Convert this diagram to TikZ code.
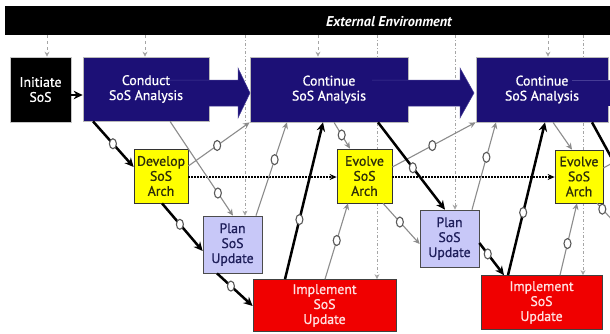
\documentclass[tikz,border=0pt]{standalone}
\usepackage{fontspec}
\setmainfont{PT Sans}
\newfontfamily\boxface{PT Sans}[FakeBold=0.9]
\usetikzlibrary{arrows.meta,shapes.geometric,backgrounds}

\definecolor{navy}{RGB}{28,16,118}
\definecolor{navyedge}{RGB}{70,60,150}
\definecolor{sosyellow}{RGB}{255,255,0}
\definecolor{archtext}{RGB}{45,45,10}
\definecolor{lavender}{RGB}{200,200,248}
\definecolor{plantext}{RGB}{30,30,90}
\definecolor{sosred}{RGB}{240,0,0}
\definecolor{impltext}{RGB}{255,225,225}
\definecolor{linkgray}{RGB}{140,140,140}
\definecolor{envgray}{RGB}{165,165,165}

\tikzset{
  boxfont/.style={font=\boxface\fontsize{13.8}{15}\selectfont},
  basebox/.style={inner sep=0pt, align=center, line width=0.7pt, boxfont},
  navybox/.style={basebox, fill=navy, draw=gray!55},
  blackbox/.style={basebox, fill=black, draw=gray!45, text=white},
  archbox/.style={basebox, fill=sosyellow, draw=black!80, text=archtext},
  planbox/.style={basebox, fill=lavender, draw=black!70, text=plantext},
  implbox/.style={basebox, fill=sosred, draw=black!75, text=impltext},
  navytext/.style={inner sep=0pt, align=center, text=white, boxfont},
  bk/.style={line width=2.5pt, black, -{Stealth[length=9pt,width=8.5pt]}},
  bkplain/.style={line width=2.5pt, black},
  gr/.style={line width=1.1pt, linkgray, -{Stealth[length=6.5pt,width=6pt]}},
  grplain/.style={line width=1.1pt, linkgray},
  dt/.style={line width=1.8pt, black, dash pattern=on 1.6pt off 1.4pt, -{Stealth[length=7pt,width=6pt]}},
  envdash/.style={line width=0.8pt, envgray, dashed, -{Stealth[length=5pt,width=5pt]}},
  envdashdot/.style={line width=0.8pt, envgray, dash pattern=on 3pt off 2pt on 1pt off 2pt, -{Stealth[length=5pt,width=5pt]}},
  mk/.style={ellipse, draw=gray!70!black, fill=white, line width=1.1pt, minimum width=7pt, minimum height=10pt, inner sep=0pt},
}

\begin{document}
\begin{tikzpicture}[x=1pt,y=-1pt]
\useasboundingbox (0,0) rectangle (610,333);
\begin{pgfonlayer}{background}
  \fill[white] (0,0) rectangle (610,333);
\end{pgfonlayer}

% environment bar
\node[fill=black, inner sep=0pt, minimum width=612pt, minimum height=29pt] (env) at (311,20.5) {};
\node[text=white, font=\fontsize{14.2}{16}\selectfont\bfseries\itshape] (envtext) at (389,22) {External Environment};

% process boxes
\node[blackbox, minimum width=61pt, minimum height=65pt] (init) at (40.5,89.5) {Initiate\\SoS};
\node[navybox, minimum width=126pt, minimum height=64pt] (conduct) at (146,89) {};
\node[navybox, minimum width=158pt, minimum height=65pt] (cont1) at (329,89.5) {};
\node[navybox, minimum width=132pt, minimum height=65pt] (cont2) at (542,89.5) {};

\node[archbox, minimum width=54pt, minimum height=54pt] (develop) at (161,176) {Develop\\SoS\\Arch};
\node[archbox, minimum width=55pt, minimum height=54pt] (evolve1) at (364.5,176) {Evolve\\SoS\\Arch};
\node[archbox, minimum width=48pt, minimum height=53pt] (evolve2) at (579,176.5) {Evolve\\SoS\\Arch};

\node[planbox, minimum width=59pt, minimum height=57pt] (plan1) at (232.5,244.5) {Plan\\SoS\\Update};
\node[planbox, minimum width=59pt, minimum height=57pt] (plan2) at (449.5,238.5) {Plan\\SoS\\Update};

\node[implbox, minimum width=143pt, minimum height=52pt] (impl1) at (324.5,305.5) {Implement\\SoS\\Update};
\node[implbox, minimum width=121pt, minimum height=54pt] (impl2) at (541.5,302.5) {Implement\\SoS\\Update};

% broad analysis arrows running through the analysis boxes
\fill[navy] (147,80) -- (238,80) -- (238,68) -- (250,93) -- (238,118) -- (238,106) -- (147,106) -- cycle;
\draw[navyedge, line width=0.5pt] (147,80) -- (238,80) -- (238,68) -- (250,93) -- (238,118) -- (238,106) -- (209,106);
\fill[navy] (372,80) -- (460,80) -- (460,68) -- (474,93) -- (460,118) -- (460,106) -- (372,106) -- cycle;
\draw[navyedge, line width=0.5pt] (372,80) -- (460,80) -- (460,68) -- (474,93) -- (460,118) -- (460,106) -- (408,106);
\fill[navy] (600,80) rectangle (612,106);
\draw[navyedge, line width=0.5pt] (572,80) -- (612,80);

\node[navytext] (conducttext) at (conduct.center) {Conduct\\SoS Analysis};
\node[navytext] (cont1text) at (cont1.center) {Continue\\SoS Analysis};
\node[navytext] (cont2text) at (cont2.center) {Continue\\SoS Analysis};

% open edge points at the right border
\coordinate (rimA) at (616,166);
\coordinate (rimB) at (616,224);
\coordinate (rimC) at (616,161);

% environment inputs
\draw[envdash] (47,0 |- env.south) -- (47,0 |- init.north);
\draw[envdash] (145,0 |- env.south) -- (145,0 |- conduct.north);
\draw[envdash] (318,0 |- env.south) -- (318,0 |- cont1.north);
\draw[envdash] (548,0 |- env.south) -- (548,0 |- cont2.north);
\begin{pgfonlayer}{background}
  \draw[envdashdot] (245,0 |- env.south) -- (245,0 |- plan1.north);
  \draw[envdashdot] (377,0 |- env.south) -- (377,0 |- impl1.north);
  \draw[envdashdot] (455,0 |- env.south) -- (455,0 |- plan2.north);
  \draw[envdashdot] (583,0 |- env.south) -- (583,0 |- impl2.north);
\end{pgfonlayer}

% architecture baseline flow
\draw[dt] (develop.east |- 0,177) -- (evolve1.west |- 0,177);
\draw[dt] (evolve1.east |- 0,177) -- (evolve2.west |- 0,177);

% feedback links
\draw[gr] (develop.east |- 0,166) -- node[mk, pos=0.47] (ma) {} (cont1.south west);
\draw[gr] (170,0 |- conduct.south) -- node[mk, pos=0.76] (mb) {} (233,0 |- plan1.north);
\draw[gr] (256,0 |- plan1.north) -- node[mk, pos=0.6] (mc) {} (287,0 |- cont1.south);
\draw[gr] (334,0 |- cont1.south) -- node[mk, pos=0.48] (md) {} (350,0 |- evolve1.north);
\draw[gr] (evolve1.east |- 0,167) -- node[mk, pos=0.48] (me) {} (cont2.south west);
\draw[gr] (325,0 |- impl1.north) -- node[mk, pos=0.51] (mf) {} (348,0 |- evolve1.south);
\draw[gr] (383,0 |- evolve1.south) -- node[mk, pos=0.46] (mg) {} (plan2.west |- 0,244);
\draw[gr] (472,0 |- plan2.north) -- node[mk, pos=0.6] (mh) {} (496,0 |- cont2.south);
\draw[gr] (553,0 |- cont2.south) -- (572,0 |- evolve2.north);
\draw[gr] (560,0 |- impl2.north) -- node[mk, pos=0.44] (mj) {} (577,0 |- evolve2.south);
\draw[grplain] (597,0 |- evolve2.south) -- node[mk, pos=0.28] (mk1) {} (rimB);
\draw[grplain] (evolve2.east |- 0,168) -- (rimC);

% main process sequence
\draw[bk] (init.east |- 0,95) -- (conduct.west |- 0,95);
\draw[bk] (93,0 |- conduct.south) -- node[mk, pos=0.49] (m2) {} (develop.west |- 0,167);
\draw[bk] (162,0 |- develop.south) -- node[mk, pos=0.44] (m3) {} (plan1.west |- 0,251);
\draw[bk] (217,0 |- plan1.south) -- node[mk, pos=0.39] (m4) {} (impl1.west |- 0,306);
\draw[bk] (285,0 |- impl1.north) -- node[mk, pos=0.38] (m5) {} (323,0 |- cont1.south);
\draw[bk] (378,0 |- cont1.south) -- node[mk, pos=0.52] (m6) {} (445,0 |- plan2.north);
\draw[bk] (plan2.east |- 0,243) -- node[mk, pos=0.34] (m7) {} (504,0 |- impl2.north);
\draw[bk] (508,0 |- impl2.north) -- node[mk, pos=0.41] (m8) {} (545,0 |- cont2.south);
\draw[bkplain] (592,0 |- cont2.south) -- (rimA);
\end{tikzpicture}
\end{document}
